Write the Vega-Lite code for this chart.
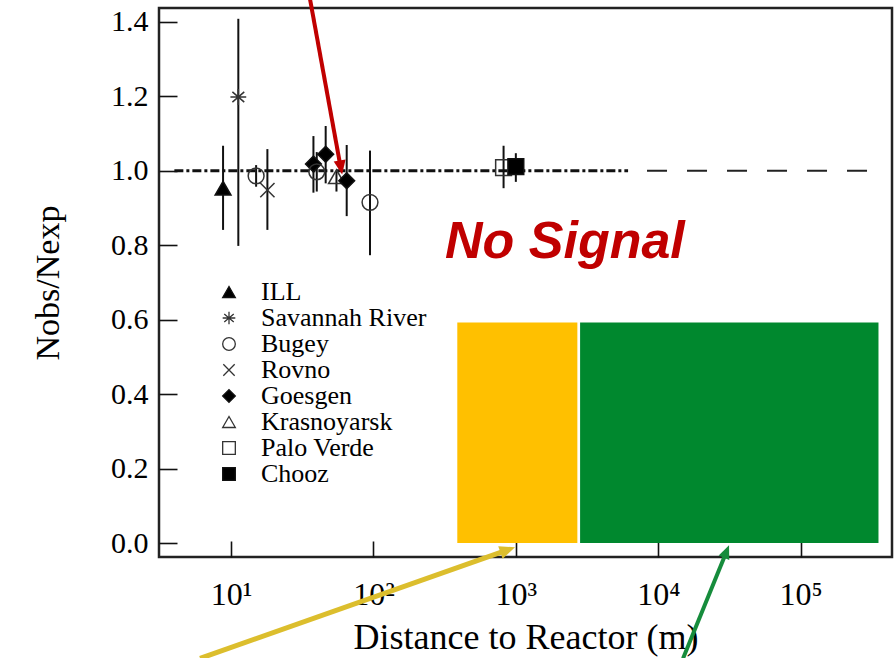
{
  "$schema": "https://vega.github.io/schema/vega-lite/v6.json",
  "width": 733,
  "height": 549,
  "autosize": "none",
  "padding": {"left": 159, "top": 8, "right": 3, "bottom": 101},
  "background": "white",
  "config": {
    "view": {"stroke": "#222", "strokeWidth": 2.5},
    "font": "Liberation Serif",
    "axis": {"labelFont": "Liberation Serif", "titleFont": "Liberation Serif", "labelColor": "#000", "titleColor": "#000", "titleFontWeight": "normal", "grid": false, "domain": false, "tickColor": "#111", "tickWidth": 1.6},
    "legend": {"orient": "none", "legendX": 57, "legendY": 271, "title": null, "labelFont": "Liberation Serif", "labelFontSize": 26, "labelColor": "#000", "symbolSize": 160, "symbolStrokeWidth": 1.3, "labelOffset": 19, "rowPadding": 0, "labelLimit": 400}
  },
  "datasets": {
    "pts": [
      {"exp": "ILL", "d": 8.79, "r": 0.953, "lo": 0.841, "hi": 1.067},
      {"exp": "Savannah River", "d": 11.25, "r": 1.198, "lo": 0.798, "hi": 1.408},
      {"exp": "Bugey", "d": 15.0, "r": 0.986, "lo": 0.957, "hi": 1.015},
      {"exp": "Rovno", "d": 18.0, "r": 0.948, "lo": 0.841, "hi": 1.058},
      {"exp": "Goesgen", "d": 37.9, "r": 1.018, "lo": 0.941, "hi": 1.093},
      {"exp": "Bugey", "d": 40.0, "r": 0.997, "lo": 0.944, "hi": 1.05},
      {"exp": "Goesgen", "d": 46.2, "r": 1.044, "lo": 0.966, "hi": 1.12},
      {"exp": "Krasnoyarsk", "d": 55.0, "r": 0.984, "lo": 0.944, "hi": 1.0},
      {"exp": "Goesgen", "d": 64.9, "r": 0.973, "lo": 0.878, "hi": 1.069},
      {"exp": "Bugey", "d": 94.6, "r": 0.915, "lo": 0.773, "hi": 1.054},
      {"exp": "Palo Verde", "d": 820, "r": 1.008, "lo": 0.953, "hi": 1.067},
      {"exp": "Chooz", "d": 1000, "r": 1.011, "lo": 0.97, "hi": 1.047}
    ],
    "zones": [
      {"zone": "near", "x1": 388, "x2": 2704, "y1": 0, "y2": 0.5925},
      {"zone": "far", "x1": 2826, "x2": 352000, "y1": 0, "y2": 0.5925}
    ],
    "lines": [
      {"kind": "dash", "x1": 8340, "x2": 297000, "y": 1},
      {"kind": "dashdot", "x1": 4.0, "x2": 6140, "y": 1}
    ],
    "labels": [
      {"text": "No Signal", "x": 318, "y": 0.765}
    ],
    "arrows": [
      {"name": "red", "x1": 35.5, "y1": 1.47, "xs": 59.0, "ys": 1.007, "xt": 60.3, "yt": 0.99},
      {"name": "yellow", "x1": 6.06, "y1": -0.31, "xs": 887, "ys": -0.0177, "xt": 987, "yt": -0.0116},
      {"name": "green", "x1": 14930, "y1": -0.31, "xs": 30130, "ys": -0.0237, "xt": 31410, "yt": -0.0062}
    ]
  },
  "layer": [
    {
      "data": {"name": "zones"},
      "transform": [{"filter": "datum.zone === 'near'"}],
      "mark": {"type": "rect", "color": "#FFC000"},
      "encoding": {
        "x": {"field": "x1", "type": "quantitative",
          "scale": {"type": "log", "domain": [3.12, 438000], "nice": false},
          "axis": {"values": [10, 100, 1000, 10000, 100000],
            "labelExpr": "datum.value == 10 ? '10¹' : datum.value == 100 ? '10²' : datum.value == 1000 ? '10³' : datum.value == 10000 ? '10⁴' : '10⁵'",
            "tickSize": -16, "labelFontSize": 32, "labelPadding": 38.7, "labelFlush": false,
            "title": "Distance to Reactor (m)", "titleFontSize": 36, "titlePadding": 10}},
        "x2": {"field": "x2"},
        "y": {"field": "y1", "type": "quantitative",
          "scale": {"domain": [-0.0376, 1.437], "nice": false, "zero": false},
          "axis": {"values": [0, 0.2, 0.4, 0.6, 0.8, 1.0, 1.2, 1.4], "format": ".1f",
            "tickSize": -18, "labelFontSize": 30, "labelPadding": 29, "labelFlush": false,
            "title": "Nobs/Nexp", "titleFontSize": 34, "titlePadding": 45}},
        "y2": {"field": "y2"}
      }
    },
    {
      "data": {"name": "zones"},
      "transform": [{"filter": "datum.zone === 'far'"}],
      "mark": {"type": "rect", "color": "#00882E"},
      "encoding": {
        "x": {"field": "x1", "type": "quantitative"},
        "x2": {"field": "x2"},
        "y": {"field": "y1", "type": "quantitative"},
        "y2": {"field": "y2"}
      }
    },
    {
      "data": {"name": "lines"},
      "transform": [{"filter": "datum.kind === 'dash'"}],
      "mark": {"type": "rule", "color": "#222", "strokeWidth": 2, "strokeDash": [20, 20]},
      "encoding": {
        "x": {"field": "x1", "type": "quantitative"},
        "x2": {"field": "x2"},
        "y": {"field": "y", "type": "quantitative"}
      }
    },
    {
      "data": {"name": "lines"},
      "transform": [{"filter": "datum.kind === 'dashdot'"}],
      "mark": {"type": "rule", "color": "#111", "strokeWidth": 3, "strokeDash": [9, 3, 3, 3]},
      "encoding": {
        "x": {"field": "x1", "type": "quantitative"},
        "x2": {"field": "x2"},
        "y": {"field": "y", "type": "quantitative"}
      }
    },
    {
      "data": {"name": "pts"},
      "mark": {"type": "rule", "color": "#111", "strokeWidth": 2},
      "encoding": {
        "x": {"field": "d", "type": "quantitative"},
        "y": {"field": "lo", "type": "quantitative"},
        "y2": {"field": "hi"}
      }
    },
    {
      "data": {"name": "pts"},
      "mark": {"type": "point", "size": 250, "strokeWidth": 1.5, "opacity": 1},
      "encoding": {
        "x": {"field": "d", "type": "quantitative"},
        "y": {"field": "r", "type": "quantitative"},
        "shape": {"field": "exp", "type": "nominal",
          "scale": {"domain": ["ILL", "Savannah River", "Bugey", "Rovno", "Goesgen", "Krasnoyarsk", "Palo Verde", "Chooz"],
            "range": ["triangle-up", "M-1,0L1,0M0,-1L0,1M-0.75,-0.65L0.75,0.65M-0.75,0.65L0.75,-0.65", "circle", "M-0.9,-0.9L0.9,0.9M-0.9,0.9L0.9,-0.9", "diamond", "triangle-up", "square", "square"]}},
        "fill": {"field": "exp", "type": "nominal",
          "scale": {"domain": ["ILL", "Savannah River", "Bugey", "Rovno", "Goesgen", "Krasnoyarsk", "Palo Verde", "Chooz"],
            "range": ["#000", "transparent", "transparent", "transparent", "#000", "transparent", "transparent", "#000"]}},
        "stroke": {"field": "exp", "type": "nominal",
          "scale": {"domain": ["ILL", "Savannah River", "Bugey", "Rovno", "Goesgen", "Krasnoyarsk", "Palo Verde", "Chooz"],
            "range": ["#111", "#333", "#333", "#333", "#111", "#333", "#333", "#111"]}}
      }
    },
    {
      "data": {"name": "labels"},
      "mark": {"type": "text", "font": "Liberation Sans", "fontSize": 52, "fontWeight": "bold", "fontStyle": "italic", "color": "#C00000", "align": "left", "baseline": "alphabetic"},
      "encoding": {
        "x": {"field": "x", "type": "quantitative"},
        "y": {"field": "y", "type": "quantitative"},
        "text": {"field": "text"}
      }
    },
    {
      "data": {"name": "arrows"},
      "transform": [{"filter": "datum.name === 'red'"}],
      "layer": [
        {"mark": {"type": "rule", "color": "#C00000", "strokeWidth": 4},
         "encoding": {"x": {"field": "x1", "type": "quantitative"}, "y": {"field": "y1", "type": "quantitative"}, "x2": {"field": "xs"}, "y2": {"field": "ys"}}},
        {"mark": {"type": "point", "shape": "M0,0L-0.85,2L0.85,2Z", "filled": true, "color": "#C00000", "size": 200, "angle": 169.7, "opacity": 1},
         "encoding": {"x": {"field": "xt", "type": "quantitative"}, "y": {"field": "yt", "type": "quantitative"}}}
      ]
    },
    {
      "data": {"name": "arrows"},
      "transform": [{"filter": "datum.name === 'yellow'"}],
      "layer": [
        {"mark": {"type": "rule", "color": "#DCBE2D", "strokeWidth": 5},
         "encoding": {"x": {"field": "x1", "type": "quantitative"}, "y": {"field": "y1", "type": "quantitative"}, "x2": {"field": "xs"}, "y2": {"field": "ys"}}},
        {"mark": {"type": "point", "shape": "M0,0L-0.85,2L0.85,2Z", "filled": true, "color": "#DCBE2D", "size": 240, "angle": 70.6, "opacity": 1},
         "encoding": {"x": {"field": "xt", "type": "quantitative"}, "y": {"field": "yt", "type": "quantitative"}}}
      ]
    },
    {
      "data": {"name": "arrows"},
      "transform": [{"filter": "datum.name === 'green'"}],
      "layer": [
        {"mark": {"type": "rule", "color": "#168C3C", "strokeWidth": 4},
         "encoding": {"x": {"field": "x1", "type": "quantitative"}, "y": {"field": "y1", "type": "quantitative"}, "x2": {"field": "xs"}, "y2": {"field": "ys"}}},
        {"mark": {"type": "point", "shape": "M0,0L-0.85,2L0.85,2Z", "filled": true, "color": "#168C3C", "size": 180, "angle": 22.2, "opacity": 1},
         "encoding": {"x": {"field": "xt", "type": "quantitative"}, "y": {"field": "yt", "type": "quantitative"}}}
      ]
    }
  ]
}
